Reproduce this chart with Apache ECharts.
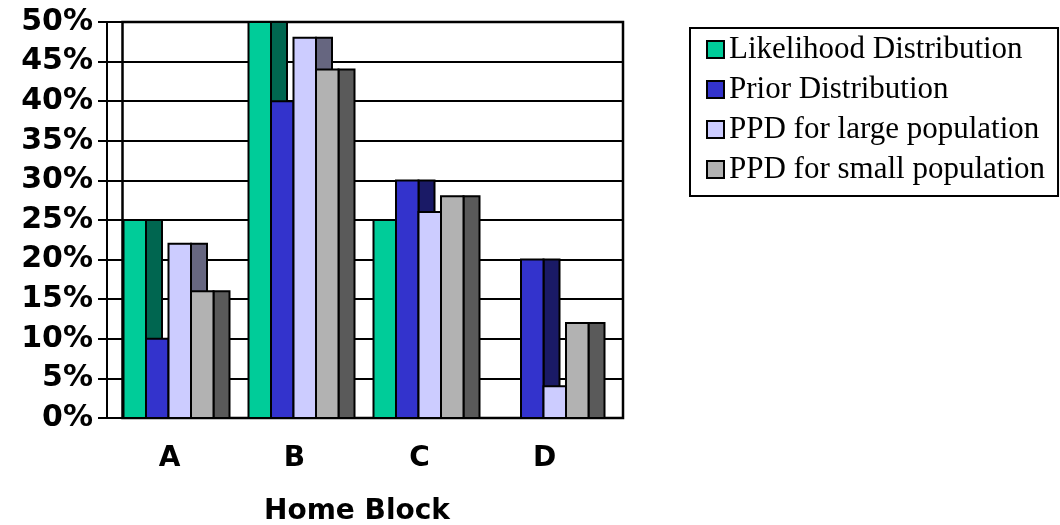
<!DOCTYPE html>
<html>
<head>
<meta charset="utf-8">
<script src="https://cdn.jsdelivr.net/npm/echarts@6/dist/echarts.min.js"></script>
<style>
  html, body { margin: 0; padding: 0; background: #fff; }
  #chart { width: 1060px; height: 525px; }
</style>
</head>
<body>
<div id="chart"></div>
<script>
// Home block probabilities (percent)
const categories = ['A', 'B', 'C', 'D'];
const likelihood = [25, 50, 25, 0];
const prior = [10, 40, 30, 20];
const ppdLarge = [22, 48, 26, 4];
const ppdSmall = [16, 44, 28, 12];

const seriesNames = [
  'Likelihood Distribution',
  'Prior Distribution',
  'PPD for large population',
  'PPD for small population'
];
const seriesValues = [likelihood, prior, ppdLarge, ppdSmall];

// front face colour and darker side face colour for each series
const faceColors = ['#00CC99', '#3333CC', '#CCCCFF', '#B2B2B2'];
const sideColors = ['#006650', '#1A1A66', '#666680', '#5A5A5A'];

// bar geometry as fractions of a category band
const GROUP_OFFSET = 0.132;
const SLOT = 0.18;
const SIDE = 0.128;

function makeRenderer(idx) {
  return function (params, api) {
    const cat = api.value(0);
    const val = api.value(1);
    if (!val) return null;
    const base = api.coord([cat, 0]);
    const top = api.coord([cat, val]);
    const bw = api.size([1, 0])[0];
    const x0 = base[0] - bw / 2 + GROUP_OFFSET * bw + idx * SLOT * bw;
    const w = SLOT * bw;
    const sw = SIDE * bw;
    const h = base[1] - top[1];
    return {
      type: 'group',
      children: [
        {
          type: 'rect',
          shape: { x: x0 + w, y: top[1], width: sw, height: h },
          style: { fill: sideColors[idx], stroke: '#000', lineWidth: 2 }
        },
        {
          type: 'rect',
          shape: { x: x0, y: top[1], width: w, height: h },
          style: { fill: faceColors[idx], stroke: '#000', lineWidth: 2 }
        }
      ]
    };
  };
}

const series = seriesValues.map((vals, idx) => ({
  name: seriesNames[idx],
  type: 'custom',
  xAxisIndex: 0,
  yAxisIndex: 0,
  z: 3 + idx,
  itemStyle: { color: faceColors[idx] },
  renderItem: makeRenderer(idx),
  data: vals.map((v, i) => [i, v])
}));

const sansBold = { fontFamily: 'DejaVu Sans', fontWeight: 'bold', color: '#000' };

const option = {
  animation: false,
  backgroundColor: '#fff',
  grid: [
    { left: 107, right: 453, top: 22, bottom: 107, show: false,
      containLabel: false, outerBoundsMode: 'none' },
    { left: 122.5, right: 437, top: 22, bottom: 107, show: true,
      containLabel: false, outerBoundsMode: 'none',
      borderColor: '#000', borderWidth: 2.5, backgroundColor: 'transparent' }
  ],
  xAxis: [
    {
      gridIndex: 0,
      type: 'category',
      data: categories,
      axisLine: { lineStyle: { color: '#000', width: 2 } },
      axisTick: { length: 8, lineStyle: { color: '#000', width: 2 } },
      axisLabel: Object.assign({ fontSize: 28, margin: 27 }, sansBold),
      name: 'Home Block',
      nameLocation: 'middle',
      nameGap: 80,
      nameTextStyle: Object.assign({ fontSize: 28 }, sansBold)
    },
    {
      gridIndex: 1,
      type: 'category',
      data: categories,
      show: false
    }
  ],
  yAxis: [
    {
      gridIndex: 0,
      type: 'value',
      min: 0,
      max: 50,
      interval: 5,
      axisLine: { show: true, lineStyle: { color: '#000', width: 2 } },
      axisTick: { show: true, length: 9, lineStyle: { color: '#000', width: 2 } },
      axisLabel: Object.assign({ fontSize: 30, margin: 14, formatter: '{value}%' }, sansBold),
      splitLine: { show: true, lineStyle: { color: '#000', width: 2 } }
    },
    {
      gridIndex: 1,
      type: 'value',
      min: 0,
      max: 50,
      interval: 5,
      axisLine: { show: false },
      axisTick: { show: false },
      axisLabel: { show: false },
      splitLine: { show: true, lineStyle: { color: '#000', width: 2 } }
    }
  ],
  legend: {
    orient: 'vertical',
    left: 690,
    top: 28,
    data: seriesNames,
    icon: 'rect',
    itemWidth: 17,
    itemHeight: 17,
    itemGap: 9,
    padding: [6, 13, 11, 16],
    borderColor: '#000',
    borderWidth: 2,
    selectedMode: false,
    itemStyle: { borderColor: '#000', borderWidth: 2 },
    textStyle: { fontFamily: 'Liberation Serif', fontSize: 31, lineHeight: 30, color: '#000' }
  },
  series: series
};

const chart = echarts.init(document.getElementById('chart'), null, { renderer: 'canvas' });
chart.setOption(option);
</script>
</body>
</html>
